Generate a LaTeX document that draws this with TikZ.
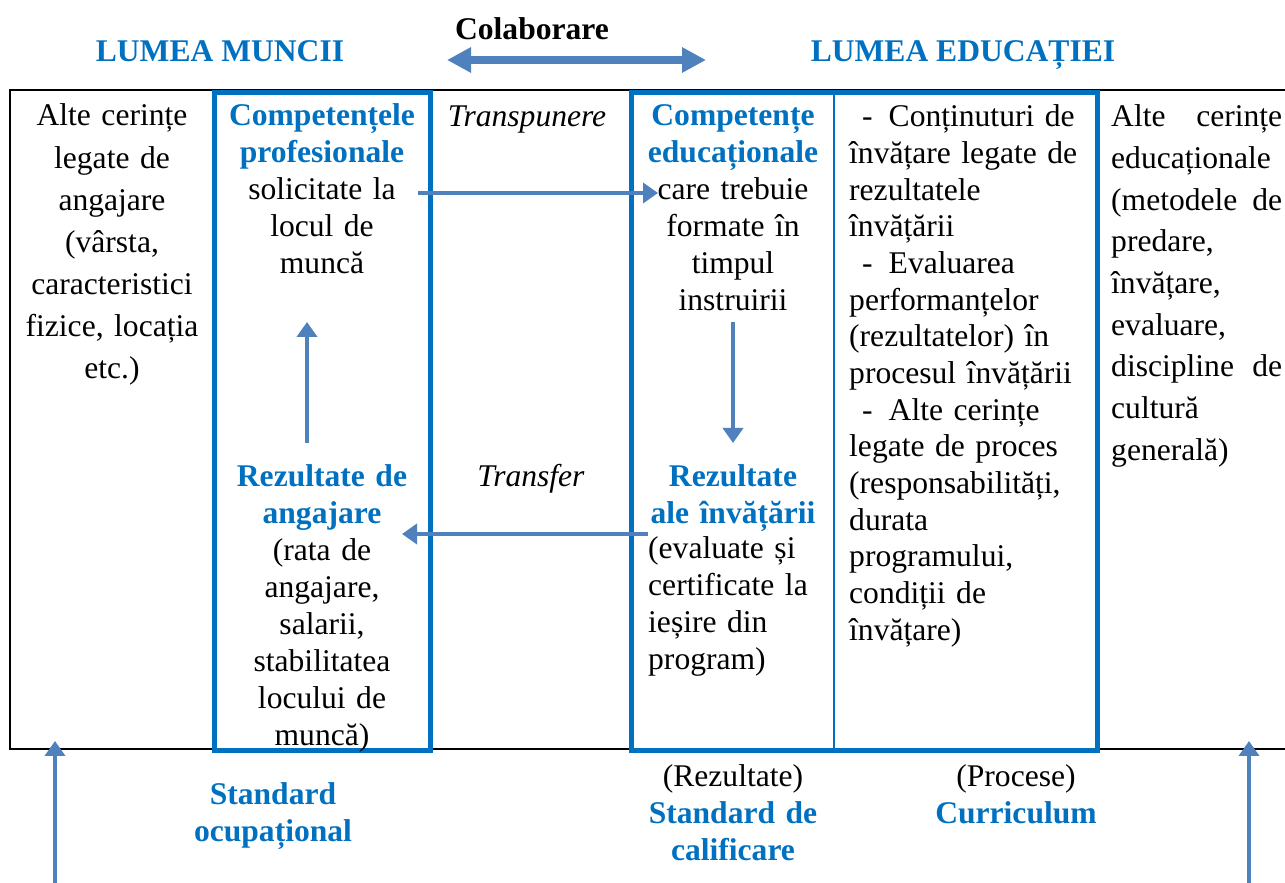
\documentclass[tikz,border=0pt]{standalone}
\usepackage{fontspec}
\setmainfont{Liberation Serif}
\usetikzlibrary{arrows.meta}
\definecolor{boxblue}{HTML}{0070C0}
\definecolor{arrowblue}{HTML}{4F81BD}
\newcommand{\bluebf}[1]{\textcolor{boxblue}{\textbf{#1}}}
\begin{document}
\begin{tikzpicture}[>={Triangle[length=15bp,width=20bp]},line join=bevel,
  every node/.style={inner sep=0pt,font=\fontsize{31.7}{37}\selectfont},
  plain/.style={align=center,anchor=base,text width=#1},
  plain/.default=210bp,
  flush/.style={align=left,anchor=base west,text width=#1},
  wide/.style={font=\fontsize{31.7}{42.2}\selectfont},
  head/.style={align=center,anchor=base,text=boxblue,font=\fontsize{31.7}{37}\selectfont\bfseries},
  link/.style={arrowblue,line width=4bp,->},
  ]
%%
\useasboundingbox (0bp,0bp) rectangle (1285bp,883bp);
  \node (node_colab) at (532bp,843bp) [anchor=base,font=\fontsize{31.7}{37}\selectfont\bfseries] {Colaborare};
  \node (node_muncii) at (220bp,821bp) [head] {LUMEA MUNCII};
  \node (node_educ) at (963bp,821bp) [head] {LUMEA EDUCAȚIEI};
  \coordinate (colab_l) at (447bp,823bp);
  \coordinate (colab_r) at (706bp,823bp);
  \draw [arrowblue,line width=7.5bp,<->,>={Triangle[length=24bp,width=24bp]}] (colab_l) -- (colab_r);
%
  \draw [black,line width=2bp,line join=miter] (1285bp,793.3bp) -- (10bp,793.3bp) -- (10bp,133.5bp) -- (1285bp,133.5bp);
  \draw [boxblue,line width=5bp,line join=miter] (214bp,132bp) rectangle (430.5bp,790.5bp);
  \draw [boxblue,line width=5bp,line join=miter] (631.5bp,132bp) rectangle (1097.5bp,790.5bp);
  \draw [boxblue,line width=2bp] (833.5bp,132bp) -- (833.5bp,790.5bp);
%
  \node (node_work_other) at (112bp,757bp) [plain=200bp,wide] {Alte cerințe\\legate de\\angajare\\(vârsta,\\caracteristici\\fizice, locația\\etc.)};
  \node (node_prof) at (322bp,757bp) [plain] {\bluebf{Competențele}\\\bluebf{profesionale}\\solicitate la\\locul de\\muncă};
  \node (node_angaj) at (322bp,396bp) [plain] {\bluebf{Rezultate de}\\\bluebf{angajare}\\(rata de\\angajare,\\salarii,\\stabilitatea\\locului de\\muncă)};
  \node (node_transp) at (527bp,756bp) [anchor=base,font=\fontsize{31.7}{37}\selectfont\itshape] {Transpunere};
  \node (node_transf) at (531bp,396bp) [anchor=base,font=\fontsize{31.7}{37}\selectfont\itshape] {Transfer};
  \node (node_educ_comp) at (733bp,757bp) [plain=200bp] {\bluebf{Competențe}\\\bluebf{educaționale}\\care trebuie\\formate în\\timpul\\instruirii};
  \node (node_invat) at (733bp,396bp) [plain=200bp] {\bluebf{Rezultate}\\\bluebf{ale învățării}};
  \node (node_invat_txt) at (648bp,324bp) [flush=180bp] {(evaluate și\\certificate la\\ieșire din\\program)};
  \node (node_proc) at (849bp,756bp) [flush=240bp,font=\fontsize{31.7}{36.8}\selectfont] {\hspace*{13bp}-\hspace{16bp}Conținuturi de\\învățare legate de\\rezultatele\\învățării\\\hspace*{13bp}-\hspace{16bp}Evaluarea\\performanțelor\\(rezultatelor) în\\procesul învățării\\\hspace*{13bp}-\hspace{16bp}Alte cerințe\\legate de proces\\(responsabilități,\\durata\\programului,\\condiții de\\învățare)};
  \node (node_educ_other) at (1111bp,756bp) [flush=171bp,font=\fontsize{31.7}{41.8}\selectfont] {Alte\hfill cerințe\\educaționale\\(metodele\hfill de\\predare,\\învățare,\\evaluare,\\discipline\hfill de\\cultură\\generală)};
%
  \node (node_std_ocup) at (273bp,78bp) [head,text width=220bp] {Standard\\ocupațional};
  \node (node_std_calif) at (733bp,96bp) [plain=220bp] {(Rezultate)\\\bluebf{Standard de}\\\bluebf{calificare}};
  \node (node_curr) at (1016bp,96bp) [plain=220bp] {(Procese)\\\bluebf{Curriculum}};
%
  \coordinate (transp_a) at (418bp,690bp);
  \coordinate (transp_b) at (658bp,690bp);
  \coordinate (transf_a) at (648bp,349bp);
  \coordinate (transf_b) at (402bp,349bp);
  \coordinate (up_a) at (307bp,440bp);
  \coordinate (up_b) at (307bp,561bp);
  \coordinate (down_a) at (733bp,561bp);
  \coordinate (down_b) at (733bp,440bp);
  \coordinate (foot_l) at (55bp,0bp);
  \coordinate (foot_l_top) at (55bp,142bp);
  \coordinate (foot_r) at (1249bp,0bp);
  \coordinate (foot_r_top) at (1249bp,142bp);
  \draw [link] (transp_a) -- (transp_b);
  \draw [link] (transf_a) -- (transf_b);
  \draw [link] (up_a) -- (up_b);
  \draw [link] (down_a) -- (down_b);
  \draw [link] (foot_l) -- (foot_l_top);
  \draw [link] (foot_r) -- (foot_r_top);
%
\end{tikzpicture}
\end{document}
